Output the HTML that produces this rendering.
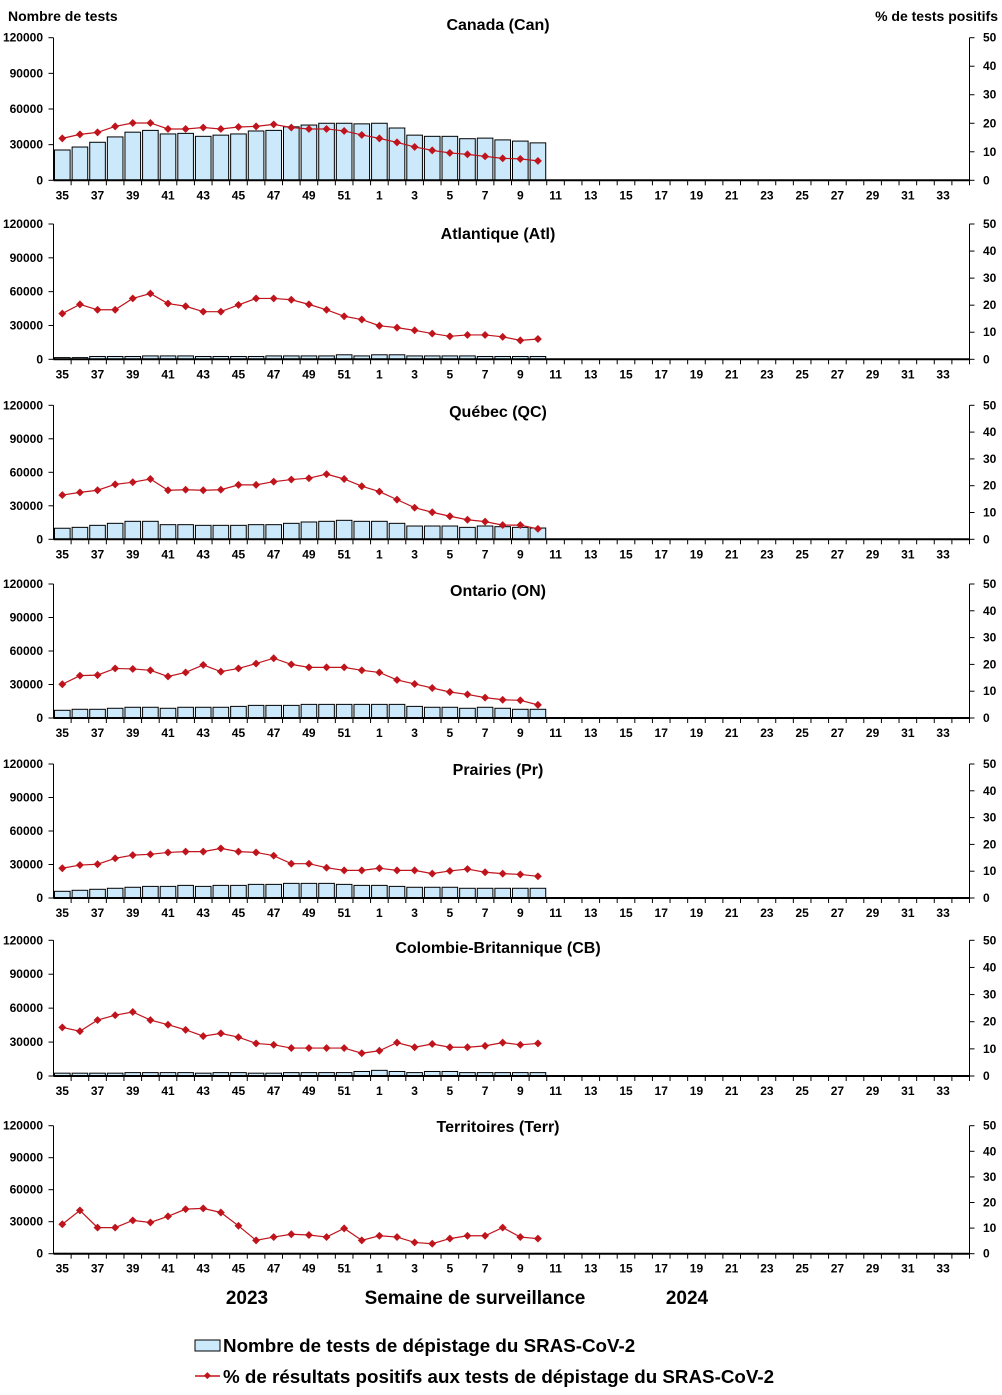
<!DOCTYPE html>
<html><head><meta charset="utf-8"><style>
body{margin:0;background:#fff;}
svg{display:block;font-family:"Liberation Sans",Arial,sans-serif;font-weight:bold;}
</style></head><body>
<svg id="chart" width="1002" height="1395" viewBox="0 0 1002 1395">
<text x="8" y="21" font-size="14">Nombre de tests</text>
<text x="998" y="21" font-size="14" text-anchor="end">% de tests positifs</text>
<text x="247" y="1304" font-size="19" text-anchor="middle">2023</text>
<text x="475" y="1304" font-size="19" text-anchor="middle">Semaine de surveillance</text>
<text x="687" y="1304" font-size="19" text-anchor="middle">2024</text>
<g>
<rect x="195" y="1340" width="25" height="11" fill="#cce9fb" stroke="#000" stroke-width="1"/>
<text x="223" y="1352" font-size="18.8">Nombre de tests de dépistage du SRAS-CoV-2</text>
<line x1="195" y1="1376" x2="220" y2="1376" stroke="#c0141c" stroke-width="1.5"/>
<rect x="204.5" y="1373" width="5" height="5" fill="#c0141c" transform="rotate(45 207 1376)"/>
<text x="223" y="1383" font-size="18.8">% de résultats positifs aux tests de dépistage du SRAS-CoV-2</text>
</g>
</svg>
<script>
const weeks = [35,36,37,38,39,40,41,42,43,44,45,46,47,48,49,50,51,52,1,2,3,4,5,6,7,8,9,10,11,12,13,14,15,16,17,18,19,20,21,22,23,24,25,26,27,28,29,30,31,32,33,34];
const leftTicks = [0,30000,60000,90000,120000];
const rightTicks = [0,10,20,30,40,50];
const regions = ["Canada (Can)","Atlantique (Atl)","Québec (QC)","Ontario (ON)","Prairies (Pr)","Colombie-Britannique (CB)","Territoires (Terr)"];
const testsCan = [25500,28000,32000,36500,40500,42000,39000,39500,37000,38000,39000,41500,42000,45000,46500,48000,48000,47500,48000,44000,38000,37000,37000,35000,35500,34000,33000,31500];
const posCan = [14.7,16.1,16.8,18.9,20.1,20.1,18,18,18.5,18,18.7,18.9,19.6,18.5,18,18,17.3,15.9,14.7,13.3,11.7,10.5,9.6,9.1,8.4,7.7,7.5,6.8];
const testsAtl = [1500,1500,2500,2500,2500,3000,3000,3000,2500,2500,2500,2500,3000,3000,3000,3000,4000,3000,4000,4000,3000,3000,3000,3000,2500,2500,2500,2500];
const posAtl = [16.9,20.3,18.3,18.3,22.5,24.3,20.6,19.6,17.6,17.6,20.1,22.5,22.5,22,20.3,18.3,15.9,14.7,12.4,11.7,10.7,9.5,8.5,9,9,8.3,7,7.5];
const testsQC = [9900,10700,12500,14300,16100,16100,13100,13100,12500,12500,12500,13100,13100,14300,15500,16100,17000,16100,16100,14300,11900,11900,11900,10700,11900,11300,10700,10100];
const posQC = [16.5,17.5,18.3,20.5,21.3,22.5,18.3,18.5,18.3,18.5,20.3,20.3,21.5,22.3,22.8,24.3,22.5,19.8,17.8,14.8,11.8,10.1,8.6,7.3,6.6,5.3,5.3,3.9];
const testsON = [6900,7800,7800,8700,9600,9600,8700,9600,9600,9600,10400,11300,11300,11300,12200,12200,12200,12200,12200,12200,10400,9600,9600,8700,9600,8700,7800,7800];
const posON = [12.6,15.8,16,18.5,18.3,17.8,15.5,17,19.8,17.3,18.5,20.3,22.3,20,18.9,18.9,18.9,17.8,17,14.2,12.7,11.2,9.7,8.8,7.6,6.8,6.6,4.9];
const testsPr = [6000,6900,7800,8700,9600,10400,10400,11300,10400,11300,11300,12200,12200,13100,13100,13100,12200,11300,11300,10400,9600,9600,9600,8700,8700,8700,8700,8700];
const posPr = [11.1,12.3,12.6,14.8,16,16.3,17,17.3,17.3,18.5,17.3,17,15.8,12.8,12.8,11.3,10.3,10.3,11.1,10.3,10.3,9.1,10.1,10.8,9.6,9.1,8.8,8.1];
const testsCB = [2500,2500,2500,2500,3000,3000,3000,3000,2500,3000,3000,2500,2500,3000,3000,3000,3000,4000,5000,4000,3000,4000,4000,3000,3000,3000,3000,3000];
const posCB = [17.9,16.5,20.6,22.4,23.6,20.6,18.9,17,14.7,15.7,14.3,12,11.5,10.3,10.3,10.3,10.3,8.4,9.3,12.3,10.6,11.8,10.6,10.6,11.1,12.3,11.5,12];
const testsTerr = [300,300,300,300,300,300,300,300,300,300,300,300,300,300,300,300,300,300,300,300,300,300,300,300,300,300,300,300];
const posTerr = [11.5,16.9,10.2,10.2,13,12.2,14.6,17.4,17.7,16.1,10.9,5.2,6.5,7.6,7.3,6.5,9.9,5.2,7,6.5,4.4,3.9,5.9,7,7,10.2,6.5,5.9];

const allTests=[testsCan,testsAtl,testsQC,testsON,testsPr,testsCB,testsTerr];
const allPos=[posCan,posAtl,posQC,posON,posPr,posCB,posTerr];
const tops=[37.7,224,405.3,584,764,940.3,1125.7];
const bots=[180.3,359.3,539.3,718,898,1076,1253.7];
const titleY=[30,239,417,596,775,953,1132];
const x0=53.5,x1=969.5, cw=(x1-x0)/weeks.length;
const svg=document.getElementById('chart');
const NS='http://www.w3.org/2000/svg';
function mk(tag,attrs,parent){const e=document.createElementNS(NS,tag);for(const k in attrs)e.setAttribute(k,attrs[k]);(parent||svg).appendChild(e);return e;}
const xOf=i=>x0+cw*i;
const xC=i=>x0+cw*(i+0.5);

regions.forEach((name,p)=>{
  const top=tops[p],bot=bots[p];
  const yL=v=>bot-(v/120000)*(bot-top);
  const yR=v=>bot-(v/50)*(bot-top);
  const g=mk('g',{});
  
  
  const t=mk('text',{x:498,y:titleY[p],'font-size':16,'text-anchor':'middle'},g);
  t.textContent=name;
  
  
  allTests[p].forEach((v,i)=>{
    const r=mk('rect',{x:xOf(i)+1,y:yL(v),width:cw-2,height:bot-yL(v),fill:'#cce9fb',stroke:'#000','stroke-width':1},g);
    
    
  });
  const la=mk('line',{x1:x0,y1:top,x2:x0,y2:bot,stroke:'#000','stroke-width':1},g);
  
  
  const ra=mk('line',{x1:x1,y1:top,x2:x1,y2:bot,stroke:'#000','stroke-width':1},g);
  
  
  const xa=mk('line',{x1:x0,y1:bot,x2:x1,y2:bot,stroke:'#000','stroke-width':2},g);
  
  
  leftTicks.forEach(v=>{
    mk('line',{x1:x0-5,y1:yL(v),x2:x0,y2:yL(v),stroke:'#000'},g);
    const tx=mk('text',{x:43,y:yL(v)+4,'font-size':12,'text-anchor':'end'},g);
    tx.textContent=v;
    
    
  });
  rightTicks.forEach(v=>{
    mk('line',{x1:x1,y1:yR(v),x2:x1+5,y2:yR(v),stroke:'#000'},g);
    const tx=mk('text',{x:983,y:yR(v)+4,'font-size':12},g);
    tx.textContent=v;
    
    
  });
  weeks.forEach((w,i)=>{
    mk('line',{x1:xOf(i+1),y1:bot,x2:xOf(i+1),y2:bot+5,stroke:'#000'},g);
    if(i%2===0){
      const tx=mk('text',{x:xC(i),y:bot+19,'font-size':12,'text-anchor':'middle'},g);
      tx.textContent=w;
      
      
    }
  });
  const pts=allPos[p].map((v,i)=>xC(i)+','+yR(v)).join(' ');
  const pl=mk('polyline',{points:pts,fill:'none',stroke:'#c0141c','stroke-width':1.2},g);
  
  
  allPos[p].forEach((v,i)=>{
    const cx=xC(i),cy=yR(v);
    const m=mk('rect',{x:cx-2.8,y:cy-2.8,width:5.6,height:5.6,fill:'#c0141c',transform:`rotate(45 ${cx} ${cy})`},g);
    
    
  });
});
</script>
</body></html>
